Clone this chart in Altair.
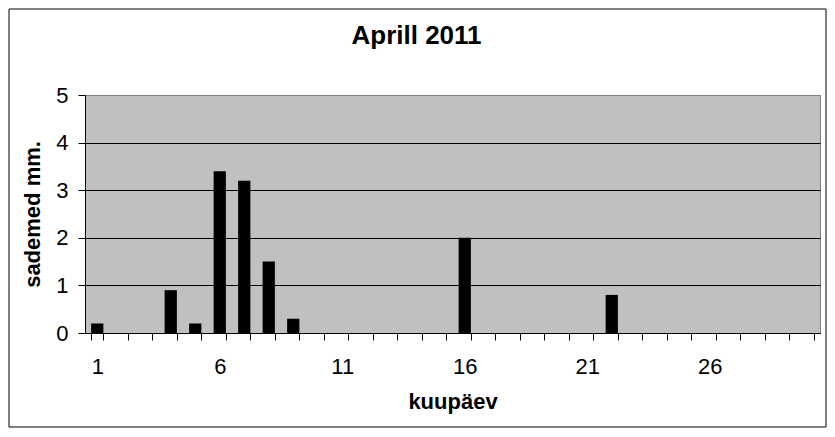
import altair as alt
import pandas as pd

days = list(range(1, 31))
rain = [0.2, 0, 0, 0.9, 0.2, 3.4, 3.2, 1.5, 0.3, 0,
        0, 0, 0, 0, 0, 2.0, 0, 0, 0, 0,
        0, 0.8, 0, 0, 0, 0, 0, 0, 0, 0]
y_ticks = [0, 1, 2, 3, 4, 5]

df = pd.DataFrame({"kuupäev": days, "sademed": rain})

FONT = "Liberation Sans"
W, H = 735, 238

bars = (
    alt.Chart(df)
    .mark_bar(color="black")
    .encode(
        x=alt.X(
            "kuupäev:O",
            title="kuupäev",
            scale=alt.Scale(paddingInner=0.5, paddingOuter=0.25),
            axis=alt.Axis(
                labelAngle=0,
                labelExpr="(datum.value - 1) % 5 == 0 ? datum.label : ''",
                tickBand="extent",
                tickSize=7,
                tickColor="black",
                domainColor="black",
                labelPadding=16,
                titlePadding=14,
                grid=False,
            ),
        ),
        y=alt.Y(
            "sademed:Q",
            title="sademed mm.",
            scale=alt.Scale(domain=[0, 5], nice=False),
            axis=alt.Axis(
                values=y_ticks,
                tickSize=7,
                tickColor="black",
                domainColor="black",
                labelPadding=10,
                titlePadding=11,
                gridColor={"condition": {"test": "datum.value == 5", "value": "#808080"}, "value": "black"},
                gridOpacity=1,
            ),
        ),
    )
)

# outer chart frame
frame = (
    alt.Chart(pd.DataFrame({"a": [0]}))
    .mark_rect(filled=False, stroke="black", strokeWidth=1, clip=False)
    .encode(
        x=alt.value(-76),
        x2=alt.value(741),
        y=alt.value(-86),
        y2=alt.value(332),
    )
)

chart = (
    alt.layer(bars, frame)
    .properties(
        width=W,
        height=H,
        autosize=alt.AutoSizeParams(type="none"),
        padding={"left": 77, "top": 87, "right": 7, "bottom": 95},
        title=alt.Title(
            "Aprill 2011",
            font=FONT,
            fontSize=26,
            fontWeight="bold",
            color="black",
            anchor="middle",
            frame="group",
            dx=-36,
            offset=-61,
            baseline="alphabetic",
        ),
    )
    .configure_view(fill="#C0C0C0", stroke="#808080", strokeWidth=1)
    .configure_axis(
        labelFont=FONT,
        labelFontSize=22,
        labelColor="black",
        titleFont=FONT,
        titleFontSize=22,
        titleFontWeight="bold",
        titleColor="black",
    )
)

chart.save("out.html", embed_options={"renderer": "svg", "actions": False})
